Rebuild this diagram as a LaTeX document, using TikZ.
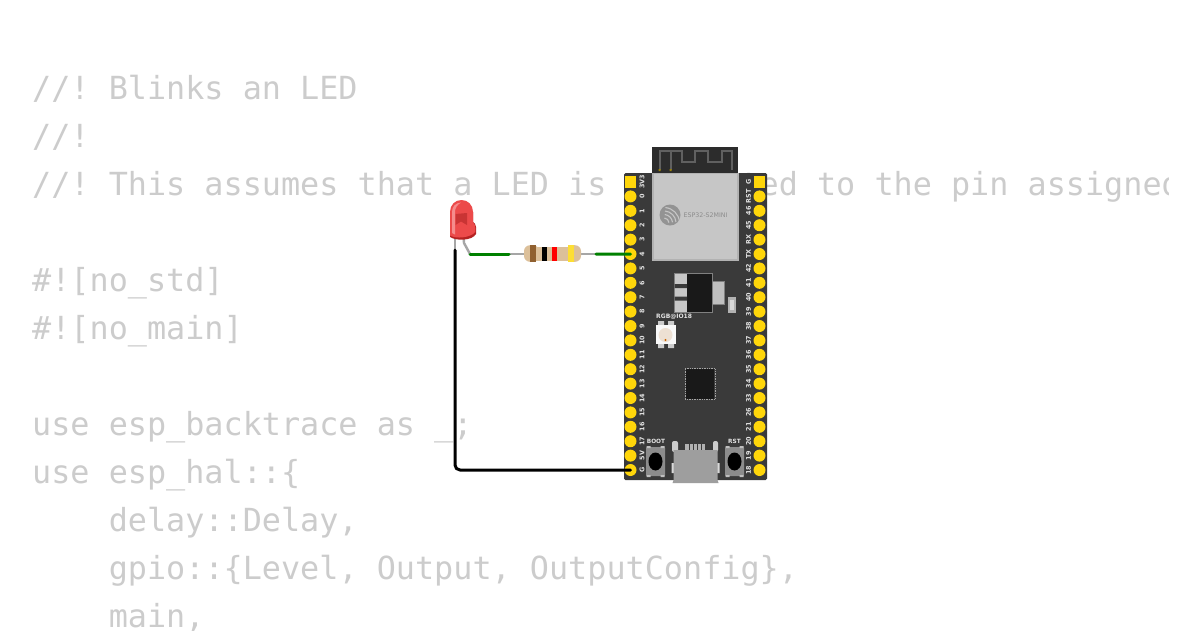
\documentclass[tikz,border=0pt]{standalone}
\usepackage{fontspec}
\setmonofont{DejaVu Sans Mono}
\newfontfamily\labelfont{DejaVu Sans}
\begin{document}
\begin{tikzpicture}[x=1pt,y=-1pt,
  codeline/.style={anchor=base west,inner sep=0pt,text=codegray,font=\fontsize{31.8}{38}\selectfont\ttfamily},
  padround/.style={circle,fill=pinyellow,minimum size=12pt,inner sep=0pt},
  padsquare/.style={rectangle,fill=pinyellow,minimum size=11.4pt,inner sep=0pt},
  pinlabel/.style={text=silklabel,inner sep=0pt,rotate=90,font=\fontsize{6.4}{8}\selectfont\labelfont\bfseries},
  silk/.style={text=silklabel,inner sep=0pt,font=\fontsize{5.8}{8}\selectfont\labelfont\bfseries},
  wire/.style={line width=3pt,line cap=round,line join=round},
  lead/.style={line width=2.4pt,draw=leadgray,line join=round}]
\definecolor{codegray}{HTML}{CCCCCC}
\definecolor{pinyellow}{HTML}{FFD60A}
\definecolor{silklabel}{HTML}{E4E4E4}
\definecolor{boardgray}{HTML}{3A3A3A}
\definecolor{antgray}{HTML}{2C2C2C}
\definecolor{leadgray}{HTML}{A6A6A6}
\definecolor{wiregreen}{HTML}{008000}
\definecolor{metal}{HTML}{C6C6C6}
\definecolor{resbody}{HTML}{DCC09A}
\definecolor{ledmain}{HTML}{EC4A4A}
\definecolor{ledlight}{HTML}{F58C8C}
\definecolor{leddark}{HTML}{C93434}
\definecolor{ledrim}{HTML}{B52222}
\definecolor{antline}{HTML}{606060}
\useasboundingbox (0,0) rectangle (1200,630);
\fill[white] (0,0) rectangle (1200,630);
% code text
\begin{scope}
\clip (0,0) rectangle (1168,630);
\node[codeline] (c0) at (32,99.6) {//! Blinks an LED};
\node[codeline] (c1) at (32,147.6) {//!};
\node[codeline] (c2) at (32,195.6) {//! This assumes that a LED is connected to the pin assigned};
\node[codeline] (c4) at (32,291.6) {\#![no\_std]};
\node[codeline] (c5) at (32,339.6) {\#![no\_main]};
\node[codeline] (c7) at (32,435.6) {use esp\_backtrace as \_;};
\node[codeline] (c8) at (32,483.6) {use esp\_hal::\{};
\node[codeline] (c9) at (108.6,531.6) {delay::Delay,};
\node[codeline] (c10) at (108.6,579.6) {gpio::\{Level, Output, OutputConfig\},};
\node[codeline] (c11) at (108.6,627.6) {main,};
\end{scope}
% board
\fill[boardgray,rounded corners=1.5pt] (624,173) rectangle (767,480);
\fill[antgray] (652,147) rectangle (738,173);
\draw[line width=2pt,draw=antline,line join=miter]
  (659.5,170) -- (659.5,151) -- (681.5,151) -- (681.5,161.5) -- (695,161.5) -- (695,151) -- (708,151) -- (708,161.5) -- (721.5,161.5) -- (721.5,151) -- (731.5,151) -- (731.5,170);
\draw[line width=2pt,draw=antline] (670.5,170) -- (670.5,151);
\fill[pinyellow!60!black] (658.5,169) rectangle (660.5,171) (669.5,169) rectangle (671.5,171);
% module
\fill[black!30!white] (651.5,173) rectangle (738.5,261);
\fill[metal] (653.5,173.5) rectangle (736.5,259);
\fill[gray!85!white] (670,215) circle (10.5);
\begin{scope}
\clip (670,215) circle (10.5);
\foreach \r in {5,8.5,12,15.5}
  \draw[metal,line width=1.1pt] (664,223) ++(-5:\r) arc[start angle=-5,end angle=-85,radius=\r];
\end{scope}
\node[inner sep=0pt,text=black!45!white,font=\fontsize{6.3}{8}\selectfont\labelfont] (modname) at (705.5,215) {ESP32-S2MINI};
% regulator
\fill[black!22!white] (674,273) rectangle (712,312);
\draw[gray,line width=.7pt] (674,273) rectangle (712,312);
\fill[black!90!white] (687,273.5) rectangle (711.5,311.5);
\fill[boardgray] (674.5,284) rectangle (687,288) (674.5,296.5) rectangle (687,300.5);
\draw[gray,line width=1pt,fill=black!25!white] (712,281.5) rectangle (724,304.5);
\fill[gray!60!white] (727.5,297) rectangle (736,313);
\fill[black!15!white] (729.5,300) rectangle (734,310);
% rgb led
\node[silk,anchor=west,font=\fontsize{6}{8}\selectfont\labelfont\bfseries] (rgbtext) at (656,316.5) {RGB@IO18};
\fill[black!20!white] (658,321) rectangle (664,348) (668,321) rectangle (674,348);
\fill[white!95!gray] (656,325) rectangle (676,344);
\fill[black!8!white!90!orange] (665.5,335) circle (7);
\fill[orange!80!black] (665.5,340) circle (1.2);
% chip
\fill[black!90!white] (686,369) rectangle (714,399);
\draw[gray!70!white,line width=1pt,dash pattern=on .8pt off .9pt] (685,368.5) -- (715,368.5) -- (715,399.5) -- (685,399.5) -- cycle;
% buttons
\node[silk] (boottext) at (656,441) {BOOT};
\node[silk] (rsttext) at (734.5,441) {RST};
\foreach \cx in {655.5,734.5}{
  \fill[black!45!white,rounded corners=1pt] ({\cx-9.5},447) rectangle ({\cx+9.5},476);
  \fill[black!25!white] ({\cx-9},446) rectangle ({\cx-5},448) ({\cx+5},446) rectangle ({\cx+9},448) ({\cx-9},475) rectangle ({\cx-5},477) ({\cx+5},475) rectangle ({\cx+9},477);
  \fill[black] (\cx,461.5) ellipse (7 and 9);
}
% usb
\fill[black!20!white,rounded corners=2pt] (672,441) rectangle (678,452) (713,441) rectangle (718,452);
\fill[black!30!white] (685,443.5) rectangle (705,451);
\foreach \s in {688.5,692.5,696.5,700.5} \fill[boardgray] (\s,443) rectangle ({\s+1},451);
\fill[black!15!white] (671.5,463) rectangle (674,473) (717,463) rectangle (719.5,473);
\fill[black!38!white] (673.5,450) -- (717.5,450) -- (717.5,480) -- (718.5,483) -- (672.5,483) -- (673.5,480) -- cycle;
% pins
\foreach \n [count=\i from 0] in {3V3,0,1,2,3,4,5,6,7,8,9,10,11,12,13,14,15,16,17,5V,G}{
  \pgfmathsetmacro{\py}{182+14.4*\i}
  \ifnum\i=0 \node[padsquare] (L\i) at (630.5,\py) {}; \else \node[padround] (L\i) at (630.5,\py) {}; \fi
  \node[pinlabel] (LT\i) at (642,\py) {\n};
}
\foreach \n [count=\i from 0] in {G,RST,46,45,RX,TX,42,41,40,39,38,37,36,35,34,33,26,21,20,19,18}{
  \pgfmathsetmacro{\py}{182+14.4*\i}
  \ifnum\i=0 \node[padsquare] (R\i) at (759.5,\py) {}; \else \node[padround] (R\i) at (759.5,\py) {}; \fi
  \node[pinlabel] (RT\i) at (748.5,\py) {\n};
}
% resistor
\coordinate (resL) at (509,254);
\coordinate (resR) at (596,254);
\draw[lead] (resL) -- (resR);
\fill[resbody] (532,246.5) rectangle (573,260.5);
\fill[resbody,rounded corners=6pt] (524,245.2) rectangle (539,261.8) (566,245.2) rectangle (581,261.8);
\fill[brown!75!black] (530,245.2) rectangle (536,261.8);
\fill[black] (541.7,246.5) rectangle (547.3,260.5);
\fill[red] (551.7,246.5) rectangle (557.3,260.5);
\fill[yellow!75!orange!80!white] (568,245.2) rectangle (574,261.8);
% LED
\coordinate (ledK) at (455,250);
\coordinate (ledA) at (470,254);
\draw[lead] (455,236) -- (ledK);
\draw[lead] (463.5,236) -- (464,243) -- (ledA);
\fill[ledrim] (450,212) -- (450,237) .. controls (456,241) and (472,241) .. (476,234) -- (476,227) .. controls (476,224) and (474,222.5) .. (473,222) -- (473,212) -- cycle;
\fill[ledmain] (450,212) .. controls (450,205) and (455,200) .. (461.5,200) .. controls (468,200) and (473,205) .. (473,212) -- (473,222) .. controls (475,223.5) and (475.5,226) .. (475.3,232) .. controls (470,238) and (456,239) .. (450,235.5) -- cycle;
\fill[ledlight] (452,233) -- (452,212) .. controls (452,206.5) and (455.5,203) .. (461,202.5) .. controls (457,205) and (455,208) .. (455,212) -- (455,234.5) -- cycle;
\fill[leddark] (455.5,214) -- (467,213) -- (467,225) -- (461,221.5) -- (455.5,225) -- cycle;
% wires
\draw[wire,draw=wiregreen] (ledA) -- (resL);
\draw[wire,draw=wiregreen] (resR) -- (L5.center);
\draw[wire,draw=black,rounded corners=5pt] (ledK) -- (455,470) -- (L20.center);
\end{tikzpicture}
\end{document}
